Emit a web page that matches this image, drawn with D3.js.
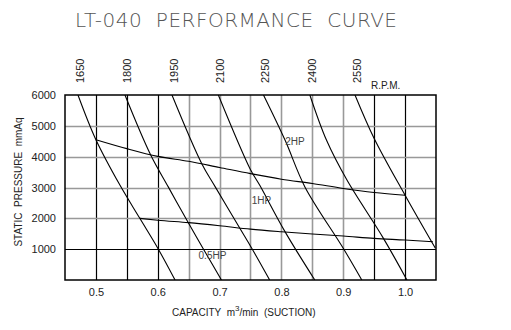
<!DOCTYPE html>
<html>
<head>
<meta charset="utf-8">
<script src="https://cdn.jsdelivr.net/npm/d3@7"></script>
<style>
  html, body { margin: 0; padding: 0; background: #fff; }
  svg { display: block; }
  text { font-family: "Liberation Sans", Arial, sans-serif; }
</style>
</head>
<body>
<svg id="chart" width="511" height="330"></svg>
<script>
// Fan performance data: capacity (m3/min) vs static pressure (mmAq)
const title = "LT-040  PERFORMANCE  CURVE";
const rpmLabels = ["1650", "1800", "1950", "2100", "2250", "2400", "2550"];

// One curve per fan speed, [capacity, pressure] pairs from top to bottom
const rpm1650 = [[0.471, 6000], [0.500, 4550], [0.539, 3070], [0.571, 2000], [0.601, 1000], [0.628, 0]];
const rpm1800 = [[0.547, 6000], [0.588, 4080], [0.617, 3020], [0.649, 1870], [0.674, 1000], [0.703, 0]];
const rpm1950 = [[0.623, 6000], [0.671, 3780], [0.693, 3020], [0.733, 1670], [0.752, 1030], [0.781, 0]];
const rpm2100 = [[0.698, 6000], [0.749, 3620], [0.765, 3070], [0.806, 1560], [0.854, 0]];
const rpm2250 = [[0.771, 6000], [0.806, 4530], [0.838, 3020], [0.900, 1030], [0.930, 0]];
const rpm2400 = [[0.846, 6000], [0.873, 4530], [0.906, 3240], [0.965, 1350], [1.003, 0]];
const rpm2550 = [[0.919, 6000], [0.950, 4590], [1.000, 2750], [1.049, 1030]];
const rpmCurves = [rpm1650, rpm1800, rpm1950, rpm2100, rpm2250, rpm2400, rpm2550];

// Motor power boundaries
const hp2Line = [[0.50, 4550], [0.55, 4260], [0.60, 4010], [0.65, 3850], [0.70, 3650], [0.75, 3450],
                 [0.80, 3270], [0.85, 3130], [0.90, 2970], [0.95, 2840], [1.00, 2750]];
const hp1Line = [[0.571, 2000], [0.60, 1940], [0.65, 1860], [0.70, 1760], [0.75, 1650], [0.80, 1565],
                 [0.85, 1490], [0.90, 1425], [0.95, 1350], [1.00, 1295], [1.045, 1240]];
const hpNames = ["2HP", "1HP", "0.5HP"];
const hpAnchors = [[0.806, 4370], [0.752, 2450], [0.666, 680]];

// Axis ticks
const xTicks = [0.5, 0.6, 0.7, 0.8, 0.9, 1.0];
const xTickLabels = ["0.5", "0.6", "0.7", "0.8", "0.9", "1.0"];
const yTicks = [1000, 2000, 3000, 4000, 5000, 6000];
const yTickLabels = ["1000", "2000", "3000", "4000", "5000", "6000"];
const xGrid = [0.50, 0.55, 0.60, 0.65, 0.70, 0.75, 0.80, 0.85, 0.90, 0.95, 1.00];
const yGrid = [1000, 2000, 3000, 4000, 5000];

const svg = d3.select("#chart");
const plotL = 65, plotR = 436, plotT = 95, plotB = 280;
const x = d3.scaleLinear().domain([0.45, 1.05]).range([plotL, plotR]);
const y = d3.scaleLinear().domain([0, 6000]).range([plotB, plotT]);

// Title
svg.append("text")
  .attr("x", 75).attr("y", 27)
  .attr("textLength", 322).attr("lengthAdjust", "spacing")
  .style("font-family", "'DejaVu Sans', sans-serif")
  .style("font-weight", 200)
  .style("font-size", "20px")
  .style("fill", "#555")
  .style("white-space", "pre")
  .text(title);

// Grid: lines near the frame edges are dark, the middle ones lighter
const darkX = new Set(["0.50", "0.55", "0.60", "0.95", "1.00"]);
svg.append("g").selectAll("line").data(xGrid).join("line")
  .attr("x1", d => Math.round(x(d)) + 0.5).attr("x2", d => Math.round(x(d)) + 0.5)
  .attr("y1", plotT).attr("y2", plotB)
  .attr("stroke", d => darkX.has(d.toFixed(2)) ? "#000" : "#999")
  .attr("stroke-width", d => darkX.has(d.toFixed(2)) ? 1.2 : 1.6);

svg.append("g").selectAll("line").data(yGrid).join("line")
  .attr("x1", plotL).attr("x2", plotR)
  .attr("y1", d => Math.round(y(d)) + 0.5).attr("y2", d => Math.round(y(d)) + 0.5)
  .attr("stroke", d => d === 1000 ? "#000" : "#999")
  .attr("stroke-width", d => d === 1000 ? 1.2 : 1.6);

// Frame
svg.append("rect")
  .attr("x", plotL).attr("y", plotT)
  .attr("width", plotR - plotL).attr("height", plotB - plotT)
  .attr("fill", "none").attr("stroke", "#000").attr("stroke-width", 1.5);

// Clip curves to the plotting frame
svg.append("clipPath").attr("id", "plot-clip")
  .append("rect").attr("x", plotL).attr("y", plotT)
  .attr("width", plotR - plotL).attr("height", plotB - plotT);

const curveLine = d3.line().x(d => x(d[0])).y(d => y(d[1])).curve(d3.curveCatmullRom.alpha(0.5));
const hpLine = d3.line().x(d => x(d[0])).y(d => y(d[1])).curve(d3.curveMonotoneX);

const plot = svg.append("g").attr("clip-path", "url(#plot-clip)");
plot.selectAll("path.rpm").data(rpmCurves).join("path")
  .attr("class", "rpm")
  .attr("d", curveLine)
  .attr("fill", "none").attr("stroke", "#000").attr("stroke-width", 1.1);

plot.selectAll("path.hp").data([hp2Line, hp1Line]).join("path")
  .attr("class", "hp")
  .attr("d", hpLine)
  .attr("fill", "none").attr("stroke", "#000").attr("stroke-width", 1.1);

// Speed labels above each curve
svg.append("g").selectAll("text").data(rpmCurves).join("text")
  .attr("transform", d => `translate(${x(d[0][0]) + 2 + 4},83) rotate(-90)`)
  .style("font-size", "11px").style("fill", "#222")
  .text((d, i) => rpmLabels[i]);

svg.append("text")
  .attr("x", 371).attr("y", 89)
  .style("font-size", "10px").style("fill", "#222")
  .text("R.P.M.");

// Power labels
svg.append("g").selectAll("text").data(hpNames).join("text")
  .attr("x", (d, i) => x(hpAnchors[i][0]))
  .attr("y", (d, i) => y(hpAnchors[i][1]))
  .style("font-size", "10px").style("fill", "#444")
  .text(d => d);

// Axes
const xAxis = d3.axisBottom(x).tickValues(xTicks).tickSize(0).tickPadding(8)
  .tickFormat((d, i) => xTickLabels[i]);
const gx = svg.append("g").attr("transform", `translate(0,${plotB})`).call(xAxis);
gx.select(".domain").remove();
gx.selectAll("text").style("font-size", "11px").style("fill", "#222")
  .style("font-family", "'Liberation Sans', Arial, sans-serif");

const yAxis = d3.axisLeft(y).tickValues(yTicks).tickSize(0).tickPadding(9)
  .tickFormat((d, i) => yTickLabels[i]);
const gy = svg.append("g").attr("transform", `translate(${plotL},0)`).call(yAxis);
gy.select(".domain").remove();
gy.selectAll("text").style("font-size", "11px").style("fill", "#222")
  .style("font-family", "'Liberation Sans', Arial, sans-serif");

// Axis titles
svg.append("text")
  .attr("transform", "translate(22,182) rotate(-90)")
  .attr("text-anchor", "middle")
  .style("font-size", "10px").style("fill", "#222").style("white-space", "pre")
  .text("STATIC  PRESSURE  mmAq");

const xt = svg.append("text")
  .attr("x", 172).attr("y", 316)
  .style("font-size", "10px").style("fill", "#222").style("white-space", "pre");
xt.append("tspan").text("CAPACITY  m");
xt.append("tspan").attr("dy", -5).style("font-size", "8px").text("3");
xt.append("tspan").attr("dy", 5).text("/min  (SUCTION)");
</script>
</body>
</html>
